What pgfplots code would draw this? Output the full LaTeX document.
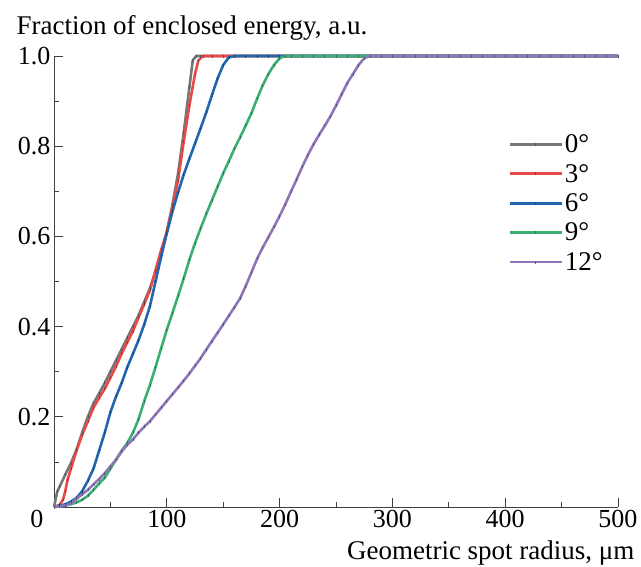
\documentclass[border=0pt]{standalone}
\usepackage{pgfplots}
\pgfplotsset{compat=1.18}
\usepackage{fontspec}
\setmainfont{Liberation Serif}
\definecolor{c0}{RGB}{118,118,118}
\definecolor{c3}{RGB}{232,74,74}
\definecolor{c6}{RGB}{34,102,176}
\definecolor{c9}{RGB}{59,174,115}
\definecolor{c12}{RGB}{142,118,184}
\tikzset{crv/.style={line width=2.6pt, mark=|, mark size=1.5pt,
  mark options={line width=0.6pt, draw=#1!70!black}, draw=#1}}
\begin{document}
\begin{tikzpicture}
\begin{axis}[
  scale only axis, width=564pt, height=451pt,
  xmin=0, xmax=500, ymin=0, ymax=1,
  clip=false,
  axis x line*=bottom, axis y line*=left,
  axis line style={black!75, line width=0.8pt},
  tick align=inside,
  major tick length=9pt, minor tick length=5pt,
  every tick/.style={black!75, line width=0.8pt},
  xtick={100,200,300,400,500},
  extra x ticks={0},
  extra x tick style={xticklabel style={xshift=-17pt}},
  minor xtick={50,150,250,350,450},
  ytick={0.2,0.4,0.6,0.8,1.0},
  minor ytick={0.1,0.3,0.5,0.7,0.9},
  yticklabel style={/pgf/number format/.cd, fixed, fixed zerofill, precision=1},
  /pgf/number format/assume math mode=true,
  ticklabel style={font=\fontsize{26}{26}\selectfont},
  every axis x label/.style={at={(rel axis cs:1,0)}, anchor=base east, xshift=20pt, yshift=-52pt, font=\fontsize{27}{27}\selectfont},
  every axis y label/.style={at={(rel axis cs:0,1)}, anchor=base west, xshift=-41pt, yshift=22pt, font=\fontsize{27}{27}\selectfont},
  xlabel={Geometric spot radius, μm},
  ylabel={Fraction of enclosed energy, a.u.},
  legend style={draw=none, fill=none, at={(0.8,0.835)}, anchor=north west,
    font=\fontsize{27}{27}\selectfont, row sep=6pt},
  legend cell align=left,
  legend image code/.code={\draw[mark repeat=2,mark phase=2,#1] plot coordinates {(0pt,0pt) (26pt,0pt) (52pt,0pt)};},
]
\addplot[crv=c0] table {
0 0
3 0.035
5 0.045
10 0.072
15 0.097
20 0.128
25 0.165
30 0.2
35 0.23
40 0.252
45 0.275
50 0.3
55 0.325
60 0.35
65 0.375
70 0.4
75 0.425
80 0.455
85 0.485
90 0.522
95 0.562
100 0.61
105 0.67
110 0.74
115 0.83
120 0.93
123 0.99
126 1
130 1
140 1
150 1
160 1
170 1
180 1
190 1
200 1
210 1
220 1
230 1
240 1
250 1
260 1
270 1
280 1
290 1
300 1
310 1
320 1
330 1
340 1
350 1
360 1
370 1
380 1
390 1
400 1
410 1
420 1
430 1
440 1
450 1
460 1
470 1
480 1
490 1
500 1
};
\addlegendentry{0°}
\addplot[crv=c3] table {
0 0
5 0.005
8 0.016
10 0.035
12 0.06
15 0.085
20 0.125
25 0.16
30 0.19
35 0.22
40 0.242
45 0.262
50 0.287
55 0.312
60 0.34
65 0.365
70 0.39
75 0.42
80 0.45
85 0.48
90 0.525
95 0.57
100 0.61
105 0.665
110 0.725
115 0.81
120 0.89
125 0.96
128 0.99
132 1
140 1
150 1
160 1
170 1
180 1
190 1
200 1
210 1
220 1
230 1
240 1
250 1
260 1
270 1
280 1
290 1
300 1
310 1
320 1
330 1
340 1
350 1
360 1
370 1
380 1
390 1
400 1
410 1
420 1
430 1
440 1
450 1
460 1
470 1
480 1
490 1
500 1
};
\addlegendentry{3°}
\addplot[crv=c6] table {
0 0
5 0.003
10 0.006
15 0.012
20 0.02
25 0.035
30 0.058
35 0.085
40 0.125
45 0.165
50 0.21
55 0.245
60 0.275
65 0.31
70 0.34
75 0.37
80 0.405
85 0.445
90 0.5
95 0.555
100 0.607
105 0.655
110 0.698
115 0.737
120 0.772
125 0.806
130 0.84
135 0.875
140 0.913
145 0.95
150 0.98
155 0.997
160 1
170 1
180 1
190 1
200 1
210 1
220 1
230 1
240 1
250 1
260 1
270 1
280 1
290 1
300 1
310 1
320 1
330 1
340 1
350 1
360 1
370 1
380 1
390 1
400 1
410 1
420 1
430 1
440 1
450 1
460 1
470 1
480 1
490 1
500 1
};
\addlegendentry{6°}
\addplot[crv=c9] table {
0 0
10 0.003
20 0.01
25 0.016
30 0.025
35 0.038
40 0.052
45 0.065
50 0.085
55 0.105
60 0.125
65 0.142
70 0.165
75 0.195
80 0.235
85 0.27
90 0.31
95 0.352
100 0.393
105 0.43
110 0.468
115 0.507
120 0.548
125 0.585
130 0.618
135 0.65
140 0.68
145 0.71
150 0.74
155 0.767
160 0.795
165 0.82
170 0.846
175 0.873
180 0.905
185 0.935
190 0.96
195 0.98
200 0.995
205 1
210 1
220 1
230 1
240 1
250 1
260 1
270 1
280 1
290 1
300 1
310 1
320 1
330 1
340 1
350 1
360 1
370 1
380 1
390 1
400 1
410 1
420 1
430 1
440 1
450 1
460 1
470 1
480 1
490 1
500 1
};
\addlegendentry{9°}
\addplot[crv=c12] table {
0 0
10 0.003
15 0.008
20 0.018
25 0.028
30 0.038
35 0.05
40 0.062
45 0.075
50 0.09
55 0.105
60 0.123
65 0.138
70 0.15
75 0.165
80 0.178
85 0.19
90 0.205
95 0.22
100 0.235
105 0.25
110 0.265
115 0.28
120 0.296
125 0.313
130 0.33
135 0.349
140 0.368
145 0.386
150 0.405
155 0.424
160 0.443
165 0.463
170 0.49
175 0.52
180 0.55
185 0.575
190 0.598
195 0.621
200 0.645
205 0.671
210 0.699
215 0.726
220 0.754
225 0.78
230 0.804
235 0.825
240 0.845
245 0.866
250 0.89
255 0.915
260 0.94
265 0.96
270 0.98
275 0.995
280 1
290 1
300 1
310 1
320 1
330 1
340 1
350 1
360 1
370 1
380 1
390 1
400 1
410 1
420 1
430 1
440 1
450 1
460 1
470 1
480 1
490 1
500 1
};
\addlegendentry{12°}
\coordinate (bl) at (rel axis cs:0,0);
\end{axis}
\pgfresetboundingbox
\path (bl) ++(-54pt,-59pt) rectangle ++(641pt,566pt);
\end{tikzpicture}
\end{document}
